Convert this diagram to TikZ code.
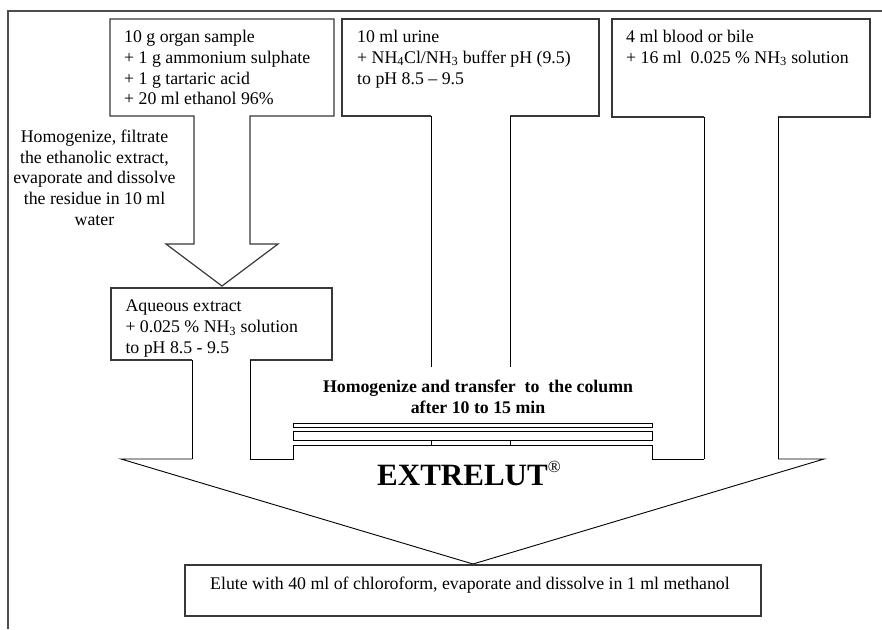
\documentclass[tikz,border=0pt]{standalone}
\usepackage{fontspec}
\setmainfont{Liberation Serif}
\newcommand\txtsize{\fontsize{17.8}{20.8}\selectfont}
\begin{document}
\begin{tikzpicture}[x=1pt,y=-1pt,
  boxline/.style={line width=1.2pt,draw=black!78,line join=miter},
  stemline/.style={line width=0.9pt,draw=black},
  frameline/.style={line width=1.5pt,draw=black!70},
  txt/.style={inner sep=0pt,font=\txtsize}]
\useasboundingbox (0,0) rectangle (882,629);
% outer frame (top and left)
\coordinate (fTL) at (8,11);
\coordinate (fTR) at (882,11);
\coordinate (fBL) at (8,629);
\draw[frameline] (fTR) -- (fTL) -- (fBL);
% box 1: organ sample with hollow arrow
\draw[boxline] (194,116) -- (110,116) -- (110,19) -- (334,19) -- (334,116) -- (250,116)
  -- (250,244) -- (278,244) -- (222,286) -- (166,244) -- (194,244) -- cycle;
\node[txt,anchor=base west] (organ) at (124,42.5)
  {\begin{tabular}[t]{@{}l@{}}10 g organ sample\\+ 1 g ammonium sulphate\\+ 1 g tartaric acid\\+ 20 ml ethanol 96\%\end{tabular}};
% box 2: urine
\draw[boxline] (431,116) -- (342,116) -- (342,19) -- (599,19) -- (599,116) -- (510,116);
\draw[stemline] (431,116) -- (431,367) (510,116) -- (510,367)
  (431,440) -- (431,445) (510,440) -- (510,445);
\node[txt,anchor=base west] (urine) at (357,42.5)
  {\begin{tabular}[t]{@{}l@{}}10 ml urine\\+ NH\textsubscript{4}Cl/NH\textsubscript{3} buffer pH (9.5)\\to pH 8.5 – 9.5\end{tabular}};
% box 3: blood
\draw[boxline] (704,117) -- (612,117) -- (612,19) -- (870,19) -- (870,117) -- (778,117);
\draw[stemline] (704,117) -- (704,459) (778,117) -- (778,459);
\node[txt,anchor=base west] (blood) at (626,42.5)
  {\begin{tabular}[t]{@{}l@{}}4 ml blood or bile\\+ 16 ml\ \ 0.025 \% NH\textsubscript{3} solution\end{tabular}};
% left text
\node[txt,anchor=base,font=\fontsize{17.8}{20.6}\selectfont] (homog) at (94.5,142.7)
  {\begin{tabular}[t]{@{}c@{}}Homogenize, filtrate\\the ethanolic extract,\\evaporate and dissolve\\the residue in 10 ml\\water\end{tabular}};
% aqueous extract box
\draw[boxline] (192,360) -- (111,360) -- (111,288) -- (332,288) -- (332,360) -- (250,360);
\draw[stemline] (192,360) -- (192,459) (250,360) -- (250,459);
\node[txt,anchor=base west] (aq) at (125.3,311.7)
  {\begin{tabular}[t]{@{}l@{}}Aqueous extract\\+ 0.025 \% NH\textsubscript{3} solution\\to pH 8.5 - 9.5\end{tabular}};
% transfer text
\node[txt,anchor=base,font=\fontsize{17.8}{20.6}\selectfont\bfseries] (transfer) at (478,392.7)
  {\begin{tabular}[t]{@{}c@{}}Homogenize and transfer\ \ to\ \ the column\\after 10 to 15 min\end{tabular}};
% column plates
\draw[stemline] (293,423) rectangle (652,427);
\draw[stemline] (293,431) rectangle (652,440);
% big arrow (EXTRELUT column)
\draw[stemline] (192,459) -- (121,459) -- (473,564) -- (824,459) -- (778,459);
\draw[stemline] (250,459) -- (293,459) -- (293,445) -- (652,445) -- (652,459) -- (704,459);
\node[inner sep=0pt,anchor=base west,font=\fontsize{31}{31}\selectfont\bfseries] (extrelut) at (377,485)
  {EXTRELUT\raisebox{13pt}{\fontsize{17}{17}\selectfont\mdseries ®}};
% bottom box
\draw[boxline] (185,565) rectangle (761,616);
\node[txt,anchor=base west] (elute) at (210,589.3)
  {Elute with 40 ml of chloroform, evaporate and dissolve in 1 ml methanol};
\end{tikzpicture}
\end{document}
